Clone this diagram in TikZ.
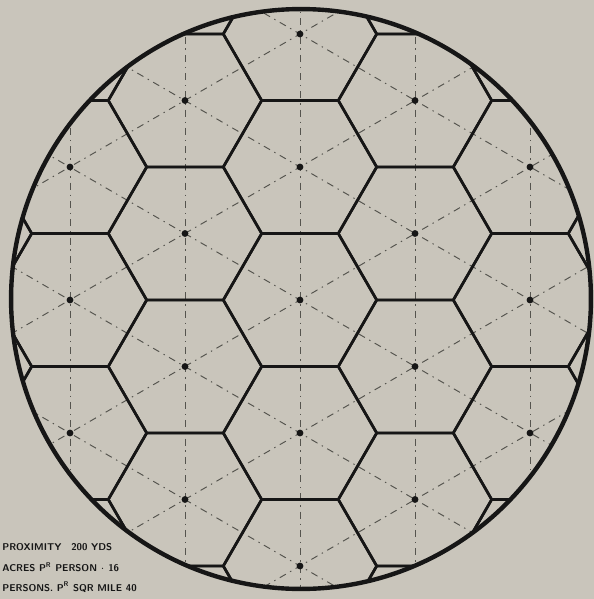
\documentclass[tikz,border=0pt]{standalone}
\usepackage{xcolor}
\definecolor{paper}{HTML}{C9C5BB}
\definecolor{ink}{HTML}{161616}
\definecolor{pencil}{HTML}{55544E}
\newcommand{\cellradius}{76.7}

\begin{document}
\begin{tikzpicture}[
  x=0.02cm,
  y=-0.02cm,
  every node/.style={font=\sffamily\bfseries\fontsize{5.6}{6}\selectfont, ink},
  rim/.style={ink, line width=2.5pt},
  cell/.style={ink, line width=1.5pt, line join=round},
  lattice/.style={pencil, line width=0.55pt,
    dash pattern=on 4pt off 2.8pt on 0.8pt off 2.8pt},
  centre/.style={circle, fill=ink, inner sep=0pt, minimum size=3.9pt}
]

  % ---- sheet ------------------------------------------------------------
  \useasboundingbox (0,0) rectangle (594,599);
  \fill[paper] (0,0) rectangle (594,599);

  % ---- everything inside the ring ---------------------------------------
  % A flat-topped hexagon grid, 115 px between columns and 133 px between
  % rows, cut off by the ring; the odd columns sit half a row lower.
  \begin{scope}
    \clip (301,299) circle (5.8cm);

    % lines through the centres: upright, and at +-30 degrees
    \foreach \i in {-2,...,2}
      \draw[lattice] ({300+115*\i},0) -- ({300+115*\i},599);
    \foreach \k in {-2,...,2} {
      \draw[lattice] (-100,{300+133*\k+231}) -- (700,{300+133*\k-231});
      \draw[lattice] (-100,{300+133*\k-231}) -- (700,{300+133*\k+231});
    }

    % the cells
    \foreach \i in {-3,...,3}
      \foreach \j in {-3,...,3} {
        \pgfmathsetmacro{\cx}{300+115*\i}
        \pgfmathsetmacro{\cy}{300+133*\j+66.5*abs(mod(\i,2))}
        \draw[cell] (\cx,\cy) +(0:\cellradius)
          -- +(60:\cellradius) -- +(120:\cellradius)
          -- +(180:\cellradius) -- +(240:\cellradius)
          -- +(300:\cellradius) -- cycle;
      }
  \end{scope}

  % ---- the ring ---------------------------------------------------------
  \draw[rim] (301,299) circle (5.8cm);

  % ---- one dot in each whole cell ---------------------------------------
  \foreach \i/\lo/\hi/\off in {-2/-1/1/0, -1/-2/1/66.5, 0/-2/2/0,
                               1/-2/1/66.5, 2/-1/1/0}
    \foreach \j in {\lo,...,\hi}
      \node[centre] (dot\i\j) at ({300+115*\i},{300+133*\j+\off}) {};

  % ---- legend, bottom left ----------------------------------------------
  \node[anchor=west, inner sep=0pt] (proximity) at (2,547)
    {PROXIMITY\quad 200 YDS};
  \node[anchor=west, inner sep=0pt] (acreage) at (2,567)
    {ACRES P\textsuperscript{R} PERSON $\cdot$ 16};
  \node[anchor=west, inner sep=0pt] (density) at (2,587)
    {PERSONS. P\textsuperscript{R} SQR MILE 40};

\end{tikzpicture}
\end{document}
